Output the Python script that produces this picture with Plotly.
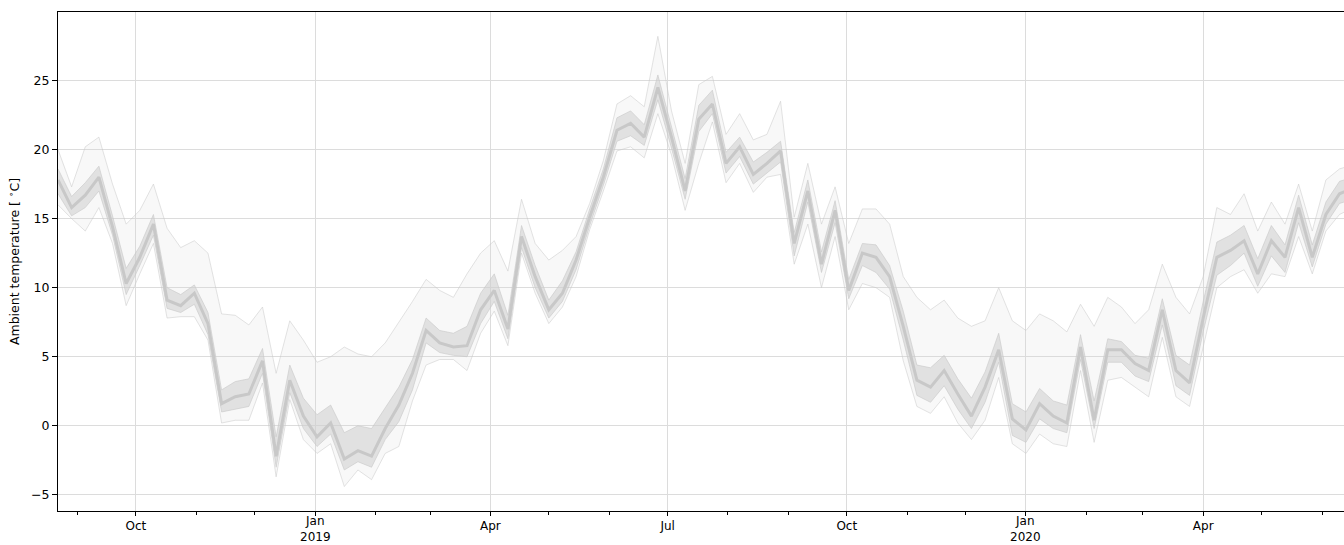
import pandas as pd
import plotly.graph_objects as go

# Weekly sampling dates of the station ensemble
weeks = pd.date_range("2018-08-22", periods=96, freq="7D")

# Ensemble summary of ambient temperature (deg C), one value per week
t_median = [17.8, 15.8, 16.7, 18.0, 14.4, 10.3, 12.2, 14.6, 9.1, 8.7,
            9.6, 7.4, 1.6, 2.1, 2.3, 4.7, -2.2, 3.3, 0.7, -0.8,
            0.2, -2.4, -1.8, -2.2, -0.2, 1.5, 3.8, 6.9, 6.0, 5.7,
            5.8, 8.4, 9.8, 7.0, 13.7, 10.8, 8.4, 9.6, 12.0, 15.1,
            18.0, 21.4, 21.9, 20.9, 24.5, 20.9, 17.0, 22.2, 23.3, 19.0,
            20.2, 18.2, 19.0, 19.9, 13.2, 17.0, 11.7, 15.6, 9.8, 12.5,
            12.2, 10.8, 7.2, 3.3, 2.8, 4.0, 2.3, 0.7, 2.8, 5.5,
            0.5, -0.3, 1.6, 0.7, 0.2, 5.7, 0.4, 5.5, 5.5, 4.5,
            4.0, 8.4, 4.0, 3.1, 7.8, 12.2, 12.7, 13.4, 11.0, 13.4,
            12.2, 15.8, 12.2, 15.3, 16.8, 17.2]

t_low = [16.8, 15.2, 15.8, 17.0, 13.8, 9.5, 11.6, 13.8, 8.5, 8.2,
         8.8, 6.6, 1.0, 1.2, 1.4, 3.8, -3.0, 2.4, -0.2, -1.5,
         -0.6, -3.2, -2.6, -3.0, -1.0, 0.3, 2.6, 6.0, 5.3, 5.1,
         5.0, 7.4, 9.0, 6.3, 12.9, 10.0, 7.8, 9.0, 11.3, 14.5,
         17.4, 20.6, 21.0, 20.3, 23.6, 20.1, 16.4, 21.3, 22.6, 18.3,
         19.5, 17.5, 18.3, 19.1, 12.3, 16.2, 11.1, 14.7, 9.2, 11.6,
         11.1, 9.9, 6.2, 2.2, 1.7, 2.9, 1.2, -0.2, 1.7, 4.6,
         -0.7, -1.2, 0.5, -0.2, -0.5, 4.8, -0.2, 4.6, 4.6, 3.6,
         3.2, 7.3, 2.9, 2.2, 6.8, 10.9, 11.6, 12.5, 10.1, 12.3,
         11.1, 14.7, 11.5, 14.6, 16.1, 16.4]

t_high = [18.6, 16.6, 17.6, 18.8, 15.2, 11.4, 13.0, 15.3, 10.0, 9.5,
          10.2, 8.2, 2.6, 3.2, 3.4, 5.6, -0.8, 4.4, 2.0, 0.8,
          1.5, -0.5, 0.0, -0.2, 1.3, 2.8, 4.8, 7.8, 6.9, 6.7,
          7.2, 9.6, 11.0, 8.0, 14.5, 11.6, 9.1, 10.5, 12.6, 15.7,
          18.6, 22.3, 22.8, 21.8, 25.4, 21.6, 17.9, 23.2, 24.3, 19.8,
          20.9, 19.1, 19.8, 20.6, 14.0, 17.8, 12.6, 16.3, 10.6, 13.2,
          13.1, 11.6, 8.3, 4.4, 4.2, 5.1, 3.4, 2.0, 3.9, 6.7,
          1.6, 1.0, 2.7, 1.8, 1.5, 6.6, 1.8, 6.3, 6.1, 5.1,
          4.9, 9.2, 5.1, 4.4, 9.0, 13.3, 13.8, 14.5, 12.1, 14.5,
          13.1, 16.7, 13.1, 16.2, 17.7, 18.0]

t_min = [16.0, 15.0, 14.1, 15.8, 13.2, 8.7, 11.0, 13.2, 7.8, 7.9,
         7.9, 6.2, 0.2, 0.4, 0.4, 3.1, -3.7, 1.9, -1.0, -2.0,
         -1.3, -4.4, -3.2, -3.9, -2.0, -1.5, 1.8, 4.4, 4.8, 4.8,
         4.0, 6.7, 8.3, 5.8, 12.5, 9.6, 7.4, 8.6, 10.8, 14.2,
         17.0, 19.9, 20.2, 19.4, 22.6, 19.6, 15.6, 19.0, 22.0, 17.6,
         19.0, 16.9, 18.0, 18.2, 11.7, 14.6, 10.0, 13.7, 8.4, 10.3,
         10.0, 9.3, 4.7, 1.4, 0.9, 2.1, 0.2, -1.0, 0.4, 3.5,
         -1.3, -2.0, -0.6, -1.3, -1.5, 4.0, -1.2, 3.3, 3.5, 2.8,
         2.1, 6.4, 2.1, 1.4, 5.6, 10.0, 10.8, 11.3, 9.6, 11.0,
         10.8, 13.7, 11.0, 14.1, 15.3, 15.8]

t_max = [20.0, 17.3, 20.2, 20.9, 17.5, 14.6, 15.6, 17.5, 14.3, 12.9,
         13.4, 12.5, 8.1, 8.0, 7.3, 8.6, 3.8, 7.6, 6.2, 4.6,
         5.0, 5.7, 5.2, 5.0, 6.0, 7.5, 9.0, 10.6, 9.8, 9.3,
         11.0, 12.5, 13.4, 11.2, 16.4, 13.2, 12.0, 12.7, 13.7, 16.1,
         19.2, 23.3, 23.9, 23.1, 28.2, 22.8, 19.0, 24.7, 25.3, 21.1,
         22.6, 20.7, 21.1, 23.5, 15.1, 19.0, 14.6, 17.3, 13.2, 15.7,
         15.7, 14.6, 10.8, 9.3, 8.4, 9.1, 7.8, 7.2, 7.6, 10.0,
         7.6, 6.9, 8.1, 7.6, 6.8, 8.8, 7.2, 9.3, 8.6, 7.4,
         8.4, 11.7, 9.3, 8.1, 10.8, 15.8, 15.3, 16.8, 14.1, 16.2,
         14.6, 17.5, 14.1, 17.8, 18.6, 18.9]

# Axis ticks: month labels on the axis, January labels carry the year
x_tick_dates = ["2018-10-01", "2019-01-01", "2019-04-01", "2019-07-01",
                "2019-10-01", "2020-01-01", "2020-04-01"]
x_tick_text = ["Oct", "", "Apr", "Jul", "Oct", "", "Apr"]
year_dates = ["2019-01-01", "2020-01-01"]
year_text = ["Jan<br>2019", "Jan<br>2020"]
y_ticks = [-5, 0, 5, 10, 15, 20, 25]

fig = go.Figure()

# Full spread of the ensemble (faint envelope)
fig.add_trace(go.Scatter(x=weeks, y=t_min, mode="lines",
                         line=dict(color="rgba(200,200,200,0.5)", width=1),
                         hoverinfo="skip", showlegend=False))
fig.add_trace(go.Scatter(x=weeks, y=t_max, mode="lines", fill="tonexty",
                         fillcolor="rgba(215,215,215,0.18)",
                         line=dict(color="rgba(200,200,200,0.5)", width=1),
                         hoverinfo="skip", showlegend=False))

# Dense core of the ensemble
fig.add_trace(go.Scatter(x=weeks, y=t_low, mode="lines",
                         line=dict(color="rgba(200,200,200,0.6)", width=1),
                         hoverinfo="skip", showlegend=False))
fig.add_trace(go.Scatter(x=weeks, y=t_high, mode="lines", fill="tonexty",
                         fillcolor="rgba(205,205,205,0.55)",
                         line=dict(color="rgba(200,200,200,0.6)", width=1),
                         hoverinfo="skip", showlegend=False))

# Ensemble median
fig.add_trace(go.Scatter(x=weeks, y=t_median, mode="lines",
                         line=dict(color="rgb(200,200,200)", width=3),
                         showlegend=False))

font = dict(family="DejaVu Sans", size=12.5, color="black")
tick_font = dict(family="DejaVu Sans", size=12, color="black")

# Two-line January labels, resting on the bottom edge
for d, txt in zip(year_dates, year_text):
    fig.add_annotation(x=d, xref="x", y=-34 / 499, yref="paper",
                       text=txt, showarrow=False, font=tick_font,
                       xanchor="center", yanchor="bottom", borderpad=0)

fig.update_layout(
    width=1344, height=545,
    margin=dict(l=58, r=0, t=12, b=34, autoexpand=False),
    paper_bgcolor="white", plot_bgcolor="white",
    font=font,
    showlegend=False,
)

fig.update_xaxes(
    automargin=False,
    range=["2018-08-22", "2020-06-12 07:00"],
    tickmode="array", tickvals=x_tick_dates, ticktext=x_tick_text,
    ticks="outside", ticklen=4, tickwidth=1, tickcolor="black",
    showline=True, linecolor="black", linewidth=1, mirror=True,
    showgrid=True, gridcolor="#dcdcdc", gridwidth=1,
    zeroline=False,
    minor=dict(dtick="M1", tick0="2018-09-01", ticks="outside",
               ticklen=3, tickwidth=1, tickcolor="black", showgrid=False),
    tickfont=tick_font,
)

fig.update_yaxes(
    automargin=False,
    range=[-6.17, 29.96],
    tickmode="array", tickvals=y_ticks,
    ticktext=[str(v) if v >= 0 else "\u2212" + str(-v) for v in y_ticks],
    ticks="outside", ticklen=5, tickwidth=1, tickcolor="black",
    showline=True, linecolor="black", linewidth=1, mirror=False,
    showgrid=True, gridcolor="#dcdcdc", gridwidth=1,
    zeroline=False,
    title=dict(text="Ambient temperature [ <sup>\u2218</sup>C]", font=font, standoff=8),
    tickfont=font,
)

fig.write_html("out.html")
